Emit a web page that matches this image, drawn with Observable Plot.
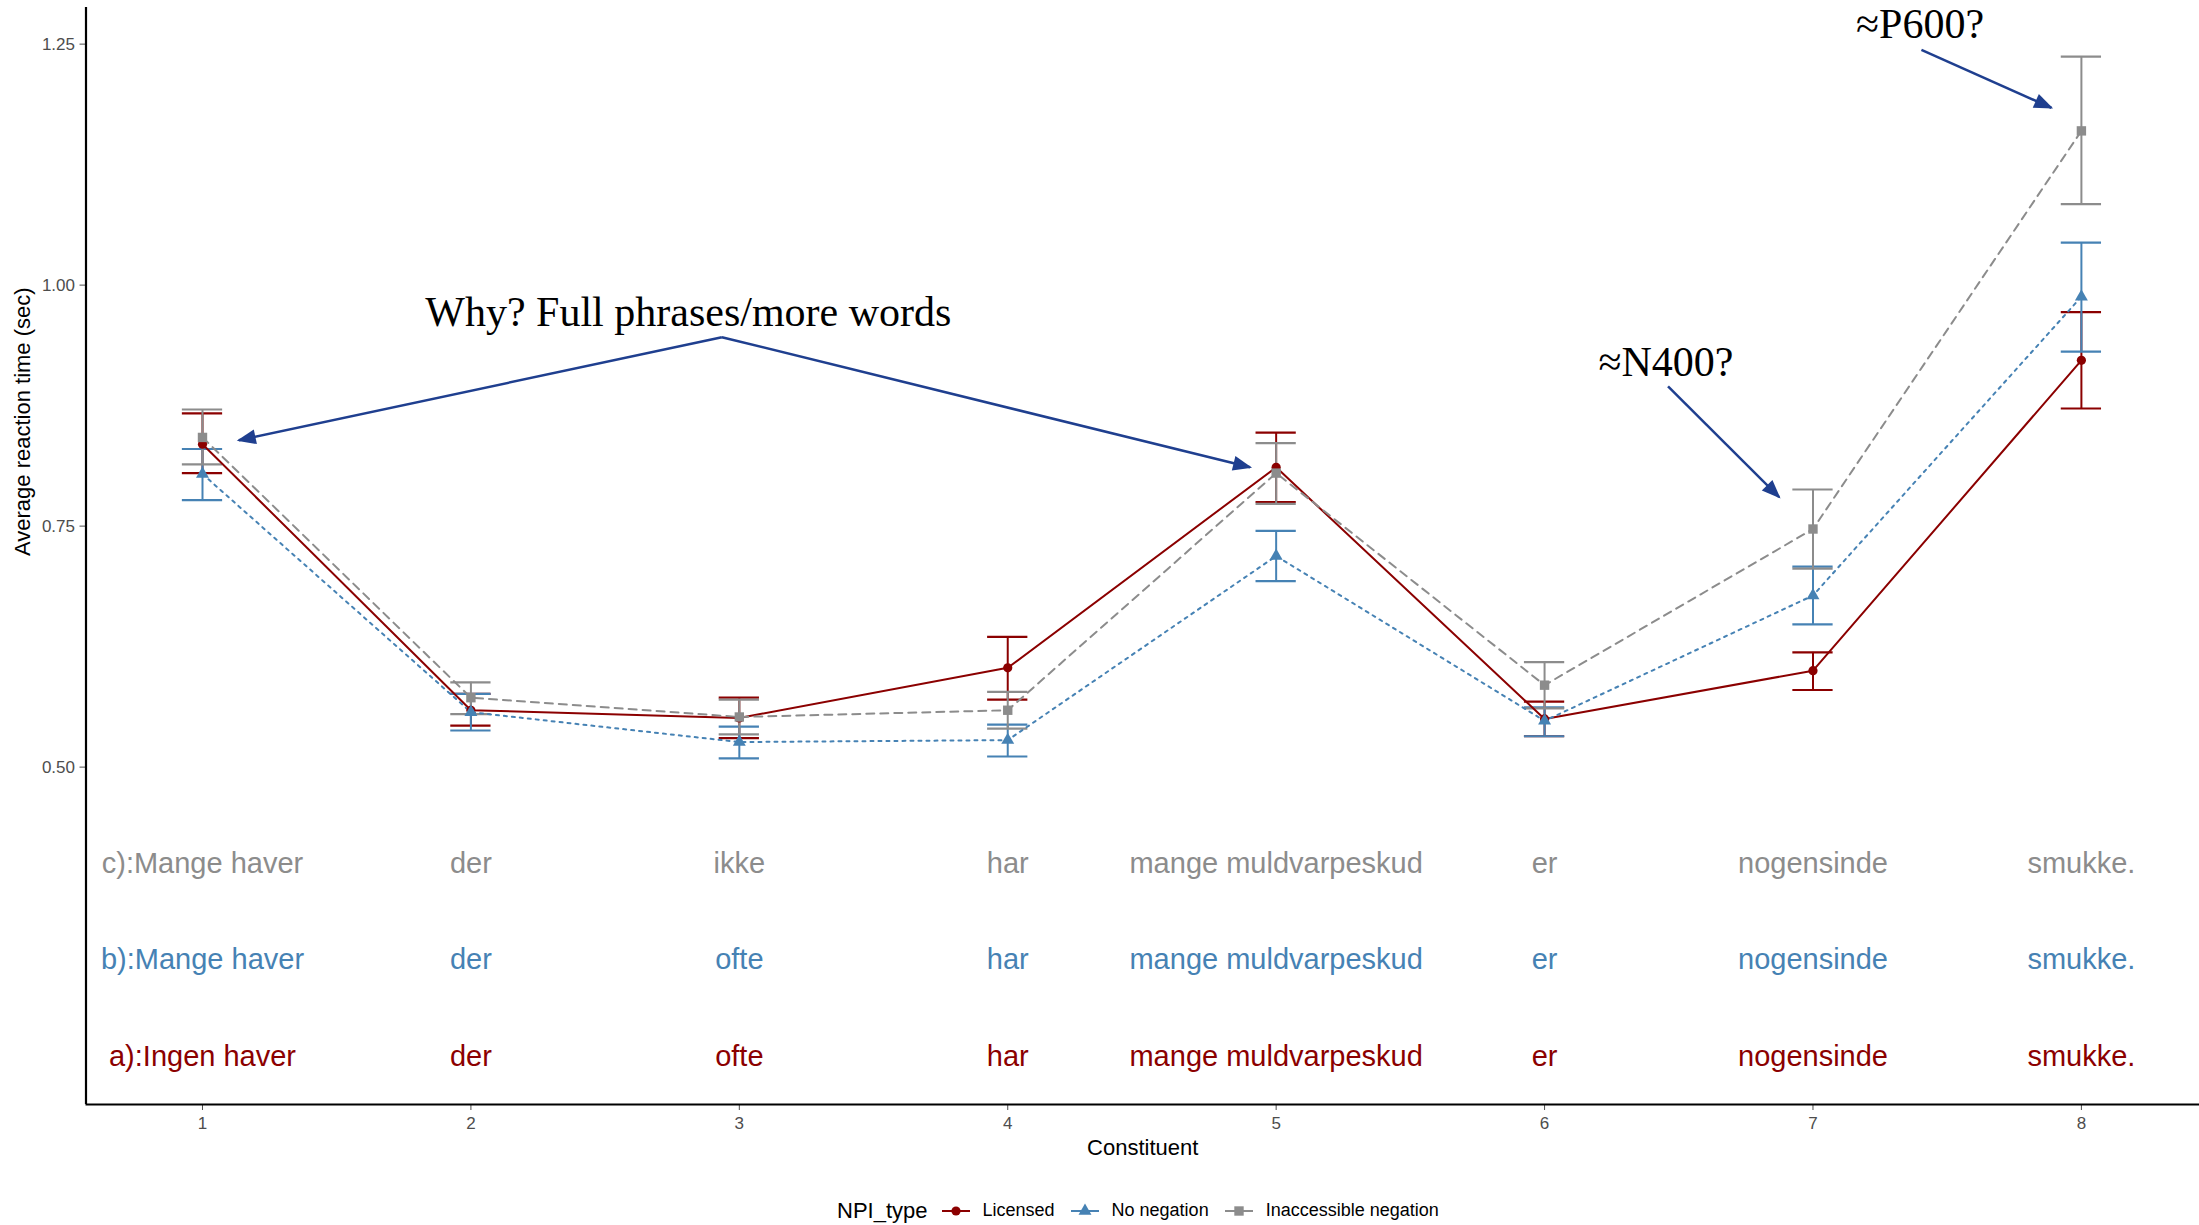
<!DOCTYPE html>
<html>
<head>
<meta charset="utf-8">
<script src="https://cdn.jsdelivr.net/npm/d3@7"></script>
<script src="https://cdn.jsdelivr.net/npm/@observablehq/plot@0.6"></script>
<style>
  html, body { margin: 0; padding: 0; background: #fff; }
  body { width: 2199px; height: 1225px; overflow: hidden; font-family: "Liberation Sans", Arial, sans-serif; }
  #legend { display: flex; align-items: center; height: 45px; margin-top: 8px; padding-left: 837px; color: #000; }
  #legend .title { font-size: 22px; margin-right: 12px; }
  #legend .key { display: block; margin-right: 11px; }
  #legend .lab { font-size: 18px; margin-right: 14px; }
</style>
</head>
<body>
<div id="chart"></div>
<div id="legend"></div>
<script>
// ---------------- data ----------------
const constituents = [1, 2, 3, 4, 5, 6, 7, 8];
const seriesNames = ["Licensed", "No negation", "Inaccessible negation"];
const seriesColors = ["#8B0000", "#4682B4", "#8c8c8c"];
const seriesDash = [null, "3,5", "8,6"];
const seriesSymbols = ["circle", "triangle", "square"];

const licensedMean = [0.835, 0.559, 0.551, 0.603, 0.811, 0.550, 0.600, 0.922];
const licensedLo   = [0.805, 0.543, 0.530, 0.570, 0.775, 0.532, 0.580, 0.872];
const licensedHi   = [0.867, 0.576, 0.572, 0.635, 0.847, 0.568, 0.619, 0.972];

const noNegMean = [0.804, 0.557, 0.526, 0.528, 0.719, 0.548, 0.678, 0.988];
const noNegLo   = [0.777, 0.538, 0.509, 0.511, 0.693, 0.532, 0.648, 0.931];
const noNegHi   = [0.830, 0.576, 0.542, 0.544, 0.745, 0.562, 0.708, 1.044];

const inaccMean = [0.842, 0.572, 0.552, 0.559, 0.805, 0.585, 0.747, 1.160];
const inaccLo   = [0.814, 0.555, 0.534, 0.540, 0.773, 0.561, 0.706, 1.084];
const inaccHi   = [0.871, 0.588, 0.570, 0.578, 0.836, 0.609, 0.788, 1.237];

const yTicks = [0.50, 0.75, 1.00, 1.25];

// sentence rows written under the curves
const rowC = ["c):Mange haver", "der", "ikke", "har", "mange muldvarpeskud", "er", "nogensinde", "smukke."];
const rowB = ["b):Mange haver", "der", "ofte", "har", "mange muldvarpeskud", "er", "nogensinde", "smukke."];
const rowA = ["a):Ingen haver", "der", "ofte", "har", "mange muldvarpeskud", "er", "nogensinde", "smukke."];
const rowLevels = [0.4, 0.3, 0.2];
const rowColors = ["#8c8c8c", "#4682B4", "#8B0000"];

// annotations (data coordinates)
const noteLabels = ["Why? Full phrases/more words", "\u2248N400?", "\u2248P600?"];
const noteX = [2.81, 6.452, 7.399];
const noteY = [0.972, 0.920, 1.270];
const arrowX1 = [2.935, 2.935, 6.460, 7.404];
const arrowY1 = [0.946, 0.946, 0.895, 1.244];
const arrowX2 = [1.135, 4.903, 6.874, 7.888];
const arrowY2 = [0.839, 0.811, 0.780, 1.184];

// ---------------- tables ----------------
const means = [licensedMean, noNegMean, inaccMean];
const los = [licensedLo, noNegLo, inaccLo];
const his = [licensedHi, noNegHi, inaccHi];
const table = [];
seriesNames.forEach((s, k) => constituents.forEach((c, i) =>
  table.push({series: s, k, x: c, mean: means[k][i], lo: los[k][i], hi: his[k][i]})));
const rows = [rowC, rowB, rowA];
const words = [];
rows.forEach((r, k) => r.forEach((w, i) => words.push({x: constituents[i], y: rowLevels[k], text: w, k})));
const notes = noteLabels.map((t, i) => ({text: t, x: noteX[i], y: noteY[i]}));
const arrows = arrowX1.map((_, i) => ({x1: arrowX1[i], y1: arrowY1[i], x2: arrowX2[i], y2: arrowY2[i]}));

const xDomain = [0.566, 8.44];
const yDomain = [0.150, 1.288];
const capHalf = 0.075;
const navy = "#1f3f8f";

const marks = [];
// error bars
seriesNames.forEach((s, k) => {
  const d = table.filter(r => r.k === k);
  marks.push(Plot.ruleX(d, {x: "x", y1: "lo", y2: "hi", stroke: seriesColors[k], strokeWidth: 2}));
  marks.push(Plot.ruleY(d, {y: "lo", x1: r => r.x - capHalf, x2: r => r.x + capHalf, stroke: seriesColors[k], strokeWidth: 2.2}));
  marks.push(Plot.ruleY(d, {y: "hi", x1: r => r.x - capHalf, x2: r => r.x + capHalf, stroke: seriesColors[k], strokeWidth: 2.2}));
});
// lines
seriesNames.forEach((s, k) => {
  const d = table.filter(r => r.k === k);
  marks.push(Plot.line(d, {x: "x", y: "mean", stroke: seriesColors[k], strokeWidth: 2, strokeDasharray: seriesDash[k]}));
});
// points
const symR = [4.6, 4.8, 5.3];
seriesNames.forEach((s, k) => {
  const d = table.filter(r => r.k === k);
  marks.push(Plot.dot(d, {x: "x", y: "mean", symbol: () => seriesSymbols[k], fill: seriesColors[k], r: symR[k], stroke: "none"}));
});
// sentence rows
marks.push(Plot.text(words, {x: "x", y: "y", text: "text", fill: d => rowColors[d.k], fontSize: 29,
  fontFamily: "Liberation Sans, Arial, sans-serif"}));
// annotations
marks.push(Plot.link(arrows, {x1: "x1", y1: "y1", x2: "x2", y2: "y2", stroke: navy, strokeWidth: 2.5}));
marks.push(Plot.text(notes, {x: "x", y: "y", text: "text", fontSize: 42, fill: "#000",
  fontFamily: "Liberation Serif, Times New Roman, serif"}));
// axis lines
marks.push(Plot.ruleX([xDomain[0]], {stroke: "#000", strokeWidth: 2.2}));
marks.push(Plot.ruleY([yDomain[0]], {stroke: "#000", strokeWidth: 2.2}));
// axis titles
marks.push(Plot.text(["Constituent"], {text: d => d, frameAnchor: "bottom", dy: 50, fontSize: 22, fill: "#000"}));
marks.push(Plot.text(["Average reaction time (sec)"], {text: d => d, frameAnchor: "left", dx: -63.5, rotate: -90, fontSize: 22, fill: "#000"}));

const plot = Plot.plot({
  width: 2199,
  height: 1180,
  marginLeft: 85.5,
  marginRight: 0,
  marginTop: 7,
  marginBottom: 76,
  style: {fontFamily: "Liberation Sans, Arial, sans-serif", fontSize: "17px", color: "#4d4d4d", background: "#fff"},
  x: {domain: xDomain, ticks: constituents, tickFormat: "d", tickSize: 6, tickPadding: 6, label: null},
  y: {domain: yDomain, ticks: yTicks, tickFormat: ".2f", tickSize: 6, tickPadding: 5, label: null},
  marks
});

// filled arrow heads
const ns = "http://www.w3.org/2000/svg";
const defs = document.createElementNS(ns, "defs");
const marker = document.createElementNS(ns, "marker");
marker.setAttribute("id", "navyHead");
marker.setAttribute("markerUnits", "userSpaceOnUse");
marker.setAttribute("viewBox", "-22 -9 26 18");
marker.setAttribute("markerWidth", "26");
marker.setAttribute("markerHeight", "18");
marker.setAttribute("refX", "0");
marker.setAttribute("refY", "0");
marker.setAttribute("orient", "auto");
const head = document.createElementNS(ns, "path");
head.setAttribute("d", "M-17,-7.5L2,0L-17,7.5Z");
head.setAttribute("fill", navy);
head.setAttribute("stroke", "none");
marker.appendChild(head);
defs.appendChild(marker);
plot.insertBefore(defs, plot.firstChild);
plot.querySelectorAll('g[aria-label="link"] path').forEach(p => p.setAttribute("marker-end", "url(#navyHead)"));

document.getElementById("chart").appendChild(plot);

// legend
const legend = document.getElementById("legend");
const t = document.createElement("span");
t.className = "title"; t.textContent = "NPI_type";
legend.appendChild(t);
seriesNames.forEach((s, k) => {
  const key = d3.create("svg").attr("class", "key").attr("width", 32).attr("height", 20);
  key.append("line").attr("x1", 2).attr("x2", 30).attr("y1", 10).attr("y2", 10)
    .attr("stroke", seriesColors[k]).attr("stroke-width", 2);
  const sym = {circle: d3.symbolCircle, triangle: d3.symbolTriangle, square: d3.symbolSquare}[seriesSymbols[k]];
  key.append("path").attr("transform", "translate(16,10)")
    .attr("d", d3.symbol(sym, Math.PI * symR[k] * symR[k])()).attr("fill", seriesColors[k]);
  legend.appendChild(key.node());
  const l = document.createElement("span");
  l.className = "lab"; l.textContent = s;
  legend.appendChild(l);
});
</script>
</body>
</html>
